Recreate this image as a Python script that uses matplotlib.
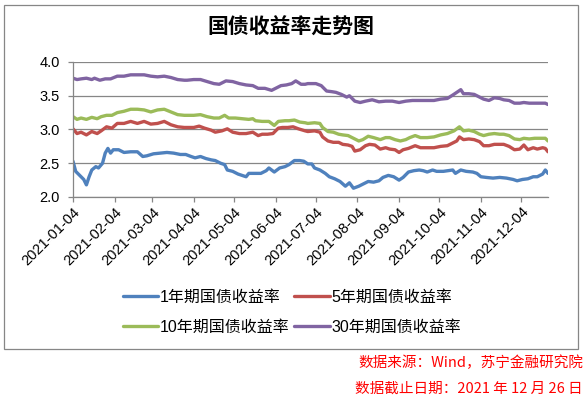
import matplotlib
matplotlib.use('Agg')
import matplotlib.pyplot as plt
import matplotlib.dates as mdates
import pandas as pd
from matplotlib.patches import Rectangle

plt.rcParams['font.family'] = ['Liberation Sans', 'Noto Sans CJK SC', 'DejaVu Sans']

start = pd.Timestamp('2021-01-04')
end_day = 354

# days after 2021-01-04, yields in %
y1_days = [0, 2, 5, 8, 10, 12, 14, 17, 19, 22, 24, 26, 28, 30, 34, 38, 43, 48, 52, 55,
           60, 65, 70, 75, 80, 84, 88, 91, 95, 99, 103, 106, 110, 113, 115, 119, 123, 126, 129, 131,
           135, 140, 144, 146, 150, 154, 158, 161, 165, 169, 172, 175, 178, 180, 184, 188, 191, 195, 199, 203,
           206, 209, 213, 216, 220, 224, 228, 231, 235, 239, 243, 246, 250, 254, 258, 261, 264, 268, 271, 276,
           283, 285, 289, 293, 298, 301, 304, 308, 313, 318, 323, 328, 331, 335, 339, 343, 346, 350, 352, 354]
y1_vals = [2.53, 2.38, 2.32, 2.26, 2.18, 2.30, 2.40, 2.45, 2.43, 2.50, 2.65, 2.72, 2.65, 2.70, 2.70, 2.66, 2.67, 2.67, 2.60, 2.61,
           2.64, 2.65, 2.66, 2.65, 2.63, 2.63, 2.60, 2.58, 2.60, 2.57, 2.55, 2.54, 2.50, 2.48, 2.40, 2.38, 2.34, 2.32, 2.30, 2.35,
           2.35, 2.35, 2.39, 2.43, 2.37, 2.43, 2.45, 2.48, 2.54, 2.54, 2.53, 2.49, 2.49, 2.43, 2.40, 2.35, 2.30, 2.27, 2.23, 2.16,
           2.21, 2.13, 2.16, 2.19, 2.23, 2.22, 2.24, 2.29, 2.32, 2.30, 2.25, 2.29, 2.37, 2.39, 2.40, 2.39, 2.37, 2.40, 2.38, 2.38,
           2.40, 2.35, 2.40, 2.38, 2.37, 2.35, 2.30, 2.29, 2.28, 2.29, 2.28, 2.26, 2.24, 2.26, 2.27, 2.30, 2.30, 2.34, 2.40, 2.35]

y5_days = [0, 3, 6, 10, 14, 18, 21, 25, 29, 33, 38, 43, 48, 53, 58, 63, 68, 73, 78, 83,
           85, 90, 94, 98, 103, 106, 111, 115, 119, 124, 129, 134, 138, 141, 145, 149, 153, 156, 160, 164,
           168, 173, 175, 180, 184, 186, 190, 194, 198, 201, 205, 208, 210, 214, 218, 221, 225, 229, 233, 236,
           240, 243, 246, 250, 255, 259, 264, 269, 274, 279, 283, 286, 288, 291, 295, 299, 303, 306, 310, 314,
           318, 321, 325, 329, 333, 336, 339, 343, 346, 350, 352, 354]
y5_vals = [3.01, 2.94, 2.96, 2.92, 2.97, 2.94, 2.98, 3.04, 3.02, 3.09, 3.09, 3.12, 3.09, 3.12, 3.08, 3.09, 3.12, 3.07, 3.04, 3.03,
           3.03, 3.03, 3.05, 3.02, 2.99, 2.96, 2.98, 3.01, 2.96, 2.94, 2.94, 2.96, 2.91, 2.93, 2.93, 2.94, 3.02, 3.03, 3.03, 3.04,
           3.01, 2.98, 2.97, 2.98, 2.96, 2.89, 2.83, 2.81, 2.81, 2.78, 2.77, 2.75, 2.68, 2.70, 2.76, 2.78, 2.77, 2.71, 2.73, 2.71,
           2.70, 2.66, 2.70, 2.72, 2.76, 2.73, 2.73, 2.73, 2.75, 2.76, 2.80, 2.83, 2.89, 2.85, 2.86, 2.85, 2.82, 2.76, 2.76, 2.78,
           2.78, 2.78, 2.75, 2.70, 2.71, 2.77, 2.70, 2.73, 2.71, 2.73, 2.72, 2.67]

y10_days = [0, 3, 6, 10, 14, 18, 21, 25, 29, 33, 38, 43, 48, 53, 58, 63, 68, 73, 78, 83,
            85, 90, 95, 100, 105, 109, 113, 116, 121, 126, 131, 134, 136, 141, 146, 150, 153, 158, 161, 165, 169, 173,
            175, 180, 184, 186, 190, 194, 198, 201, 205, 209, 213, 216, 220, 224, 229, 233, 236, 240, 244, 248, 251, 255, 259,
            264, 269, 274, 279, 284, 288, 291, 295, 299, 303, 306, 310, 314, 318, 321, 325, 329, 333, 336, 340, 344, 349, 352, 354]
y10_vals = [3.19, 3.15, 3.17, 3.15, 3.18, 3.16, 3.19, 3.21, 3.21, 3.25, 3.27, 3.30, 3.30, 3.29, 3.26, 3.29, 3.30, 3.26, 3.22, 3.21,
            3.21, 3.21, 3.22, 3.19, 3.17, 3.17, 3.21, 3.17, 3.17, 3.16, 3.15, 3.16, 3.13, 3.12, 3.12, 3.06, 3.12, 3.13, 3.13, 3.14, 3.11, 3.10,
            3.09, 3.10, 3.09, 3.03, 2.97, 2.96, 2.93, 2.92, 2.91, 2.87, 2.83, 2.85, 2.90, 2.88, 2.85, 2.88, 2.88, 2.85, 2.83, 2.85, 2.88, 2.91, 2.88,
            2.88, 2.89, 2.92, 2.94, 2.98, 3.04, 2.98, 2.99, 2.97, 2.93, 2.91, 2.93, 2.94, 2.93, 2.93, 2.91, 2.86, 2.85, 2.87, 2.86, 2.87, 2.87, 2.87, 2.83]

y30_days = [0, 3, 6, 10, 14, 16, 20, 24, 28, 33, 38, 43, 48, 53, 58, 63, 68, 73, 78, 83,
            85, 90, 95, 100, 105, 109, 114, 119, 124, 129, 134, 138, 143, 148, 151, 155, 159, 163, 166, 170, 173,
            175, 181, 185, 189, 193, 196, 200, 204, 206, 210, 214, 218, 223, 228, 233, 238, 243, 248, 253, 258,
            264, 269, 274, 279, 283, 286, 289, 291, 295, 299, 303, 306, 310, 314, 318, 321, 325, 329, 333, 336, 340, 344, 349, 352, 354]
y30_vals = [3.76, 3.74, 3.75, 3.76, 3.74, 3.76, 3.73, 3.75, 3.75, 3.79, 3.79, 3.81, 3.81, 3.81, 3.79, 3.78, 3.79, 3.77, 3.74, 3.73,
            3.73, 3.74, 3.74, 3.71, 3.68, 3.67, 3.72, 3.71, 3.68, 3.66, 3.65, 3.61, 3.61, 3.58, 3.61, 3.65, 3.66, 3.68, 3.72, 3.67, 3.67,
            3.68, 3.68, 3.65, 3.57, 3.56, 3.55, 3.52, 3.48, 3.50, 3.42, 3.40, 3.42, 3.44, 3.41, 3.42, 3.42, 3.40, 3.42, 3.43, 3.43,
            3.43, 3.43, 3.45, 3.46, 3.51, 3.55, 3.59, 3.53, 3.53, 3.52, 3.48, 3.45, 3.43, 3.47, 3.46, 3.44, 3.43, 3.39, 3.39, 3.40, 3.39, 3.39, 3.39, 3.39, 3.37]

labels = ['1年期国债收益率', '5年期国债收益率', '10年期国债收益率', '30年期国债收益率']
colors = ['#4F81BD', '#C0504D', '#9BBB59', '#8064A2']
series = [(y1_days, y1_vals), (y5_days, y5_vals), (y10_days, y10_vals), (y30_days, y30_vals)]

grey = '#868686'

fig = plt.figure(figsize=(5.85, 3.98), dpi=100)
fig.patches.append(Rectangle((4/585, 1-349/398), 574/585, 344/398, transform=fig.transFigure,
                             fill=False, edgecolor=grey, linewidth=0.9))

ax = fig.add_axes([73/585, 1-197/398, 475/585, 135/398])
lines = []
for (d, v), lab, c in zip(series, labels, colors):
    x = start + pd.to_timedelta(d, unit='D')
    ln, = ax.plot(x, v, color=c, linewidth=2.4, label=lab, solid_capstyle='round')
    lines.append(ln)

ax.set_xlim(start, start + pd.Timedelta(days=end_day))
ax.set_ylim(2.0, 4.0)
ax.set_yticks([2.0, 2.5, 3.0, 3.5, 4.0])
ax.yaxis.set_major_formatter(matplotlib.ticker.FormatStrFormatter('%.1f'))
ax.xaxis.set_major_locator(mdates.MonthLocator(bymonthday=4))
ax.xaxis.set_major_formatter(mdates.DateFormatter('%Y-%m-%d'))
ax.grid(axis='y', color=grey, linewidth=0.9)
ax.set_axisbelow(True)
for s in ['top', 'right']:
    ax.spines[s].set_visible(False)
for s in ['left', 'bottom']:
    ax.spines[s].set_color(grey)
    ax.spines[s].set_linewidth(0.9)
ax.tick_params(axis='both', colors=grey, labelcolor='black', labelsize=10.5, width=0.9)
ax.tick_params(axis='x', length=3.5, pad=2)
ax.tick_params(axis='y', length=3.5, pad=6)
for t in ax.get_xticklabels():
    t.set_rotation(45)
    t.set_ha('right')
    t.set_rotation_mode('anchor')

fig.text(291/585, 1-27/398, '国债收益率走势图', ha='center', va='center', fontsize=15,
         fontweight='bold', family=['Noto Sans CJK SC'])

# legend fills by column, so order 1Y,10Y | 5Y,30Y to get rows 1Y 5Y / 10Y 30Y
order = [0, 2, 1, 3]
fig.legend([lines[i] for i in order], [labels[i] for i in order], ncol=2, loc='center',
           bbox_to_anchor=(292/585, 1-312/398), frameon=False, fontsize=11.5,
           handlelength=2.2, handletextpad=0.1, columnspacing=0.3, labelspacing=0.95, borderpad=0)

fig.text(583/585, 1-363/398, '数据来源：Wind，苏宁金融研究院', ha='right', va='center',
         fontsize=10.5, color='red', style='italic', family=['Noto Sans CJK SC', 'DejaVu Sans'])
fig.text(583/585, 1-389/398, '数据截止日期：2021 年 12 月 26 日', ha='right', va='center',
         fontsize=10.5, color='red', style='italic', family=['Noto Sans CJK SC', 'DejaVu Sans'])

fig.savefig('out.png', dpi=100)
